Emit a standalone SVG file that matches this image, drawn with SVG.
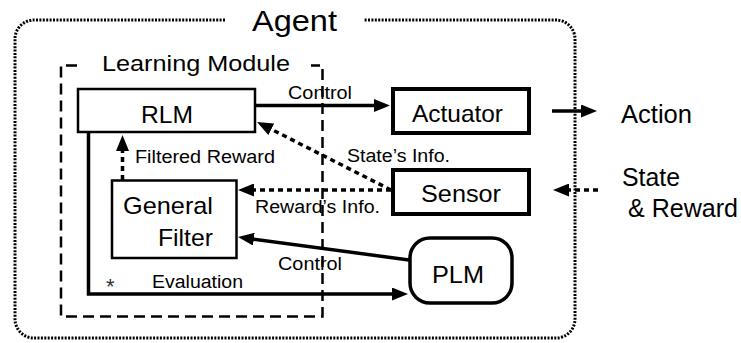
<svg xmlns="http://www.w3.org/2000/svg" width="741" height="343" viewBox="0 0 741 343">
<style>
text{font-family:"Liberation Sans",Arial,sans-serif;fill:#000}
.big{font-size:24px}
.lbl{font-size:18px}
.box{fill:#fff;stroke:#000}
.ln{fill:none;stroke:#000;stroke-width:3.5}
.dsh{stroke-dasharray:5 4}
</style>
<defs>
<marker id="ah" viewBox="0 0 16 13" markerWidth="16" markerHeight="13" refX="1" refY="6.5" orient="auto" markerUnits="userSpaceOnUse">
<path d="M0,0 L16,6.5 L0,13 z" fill="#000"/>
</marker>
</defs>
<rect width="741" height="343" fill="#fff"/>
<g id="agent">
<path d="M225 20 H34 A19 19 0 0 0 15 39 V319 A19 19 0 0 0 34 338 H556 A19 19 0 0 0 575 319 V39 A19 19 0 0 0 556 20 H364" fill="none" stroke="#000" stroke-width="3" stroke-dasharray="2 1.4"/>
<text x="252" y="31" style="font-size:30px" textLength="85" lengthAdjust="spacingAndGlyphs">Agent</text>
</g>
<g id="learning-module">
<path d="M77 65.5 H61 V316.5 H322.5 V65.5 H311" fill="none" stroke="#000" stroke-width="2.5" stroke-dasharray="11 6"/>
<text x="102" y="71" style="font-size:22px" textLength="188" lengthAdjust="spacingAndGlyphs">Learning Module</text>
</g>
<g id="rlm">
<rect class="box" x="78" y="89" width="177" height="43" stroke-width="2.5"/>
<text class="big" x="141" y="123" textLength="52" lengthAdjust="spacingAndGlyphs">RLM</text>
</g>
<g id="actuator">
<rect class="box" x="393" y="89" width="136" height="44" stroke-width="4"/>
<text class="big" x="412" y="122" textLength="91" lengthAdjust="spacingAndGlyphs">Actuator</text>
</g>
<g id="sensor">
<rect class="box" x="393" y="170" width="136" height="44" stroke-width="4"/>
<text class="big" x="421" y="202" textLength="80" lengthAdjust="spacingAndGlyphs">Sensor</text>
</g>
<g id="general-filter">
<rect class="box" x="112" y="180.5" width="124.5" height="77.5" stroke-width="2.5"/>
<text class="big" x="123" y="214" textLength="90" lengthAdjust="spacingAndGlyphs">General</text>
<text class="big" x="158" y="246" textLength="55" lengthAdjust="spacingAndGlyphs">Filter</text>
</g>
<g id="plm">
<rect class="box" x="410" y="238" width="102" height="65" rx="20" stroke-width="3.5"/>
<text class="big" x="432" y="283" textLength="52" lengthAdjust="spacingAndGlyphs">PLM</text>
</g>
<g id="action">
<text x="621" y="123" style="font-size:25px" textLength="71" lengthAdjust="spacingAndGlyphs">Action</text>
</g>
<g id="state-reward">
<text x="622" y="186" style="font-size:25px" textLength="58" lengthAdjust="spacingAndGlyphs">State</text>
<text x="628" y="217" style="font-size:25px" textLength="110" lengthAdjust="spacingAndGlyphs">&amp; Reward</text>
</g>
<g id="connectors">
<line class="ln" x1="256" y1="105.5" x2="375" y2="105.5" marker-end="url(#ah)"/>
<text class="lbl" x="288" y="99" textLength="64" lengthAdjust="spacingAndGlyphs">Control</text>
<line class="ln" x1="552" y1="111" x2="582" y2="111" marker-end="url(#ah)"/>
<line class="ln dsh" x1="598" y1="190" x2="568" y2="190" marker-end="url(#ah)"/>
<line class="ln dsh" x1="391" y1="190" x2="270.4" y2="128.8" marker-end="url(#ah)"/>
<text class="lbl" x="347" y="162" textLength="103" lengthAdjust="spacingAndGlyphs">State’s Info.</text>
<line class="ln dsh" x1="391" y1="190" x2="253" y2="190" marker-end="url(#ah)"/>
<text class="lbl" x="255" y="213" textLength="125" lengthAdjust="spacingAndGlyphs">Reward’s Info.</text>
<line class="ln dsh" x1="122.5" y1="180" x2="122.5" y2="150" marker-end="url(#ah)"/>
<text class="lbl" x="135" y="163" textLength="140" lengthAdjust="spacingAndGlyphs">Filtered Reward</text>
<line class="ln" x1="409" y1="260" x2="252.9" y2="239" marker-end="url(#ah)"/>
<text class="lbl" x="278" y="270" textLength="64" lengthAdjust="spacingAndGlyphs">Control</text>
<path class="ln" d="M88.5 133 V294 H393" marker-end="url(#ah)"/>
<text x="106" y="294" style="font-size:22px;fill:#333">*</text>
<text class="lbl" x="152" y="288" textLength="91" lengthAdjust="spacingAndGlyphs">Evaluation</text>
</g>
</svg>
